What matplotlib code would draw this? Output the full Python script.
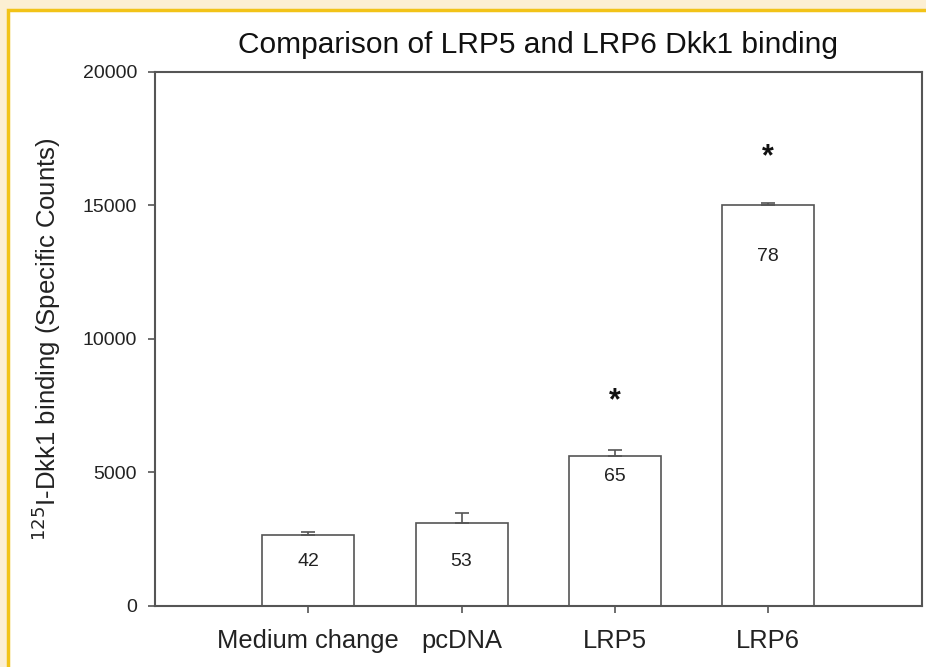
import matplotlib
matplotlib.use("Agg")
import matplotlib.pyplot as plt
from matplotlib.patches import Rectangle

categories = ["Medium change", "pcDNA", "LRP5", "LRP6"]
means = [2650, 3090, 5620, 15000]
errors = [90, 380, 200, 100]
bar_labels = ["42", "53", "65", "78"]
label_y = [1650, 1650, 4850, 13100]
star_y = [None, None, 7650, 16800]
yticks = [0, 5000, 10000, 15000, 20000]

plt.rcParams['font.family'] = ['Liberation Sans', 'DejaVu Sans']

W, H = 926, 667
fig = plt.figure(figsize=(W / 100, H / 100), dpi=100)
fig.patch.set_facecolor('#FCEFD3')
fig.patches.append(Rectangle((8 / W, -0.1), 1.2, 1.1 - 10 / H, transform=fig.transFigure,
                             facecolor='white', edgecolor='#F2C318', linewidth=2.5,
                             zorder=-1))

ax = fig.add_axes([155 / W, 1 - 605.5 / H, (921.5 - 155) / W, (605.5 - 72) / H])
ax.set_facecolor('none')
pos = [1, 2, 3, 4]
ec = '#555555'
ax.bar(pos, means, width=0.6, color='white', edgecolor=ec, linewidth=1.2, zorder=2)
ax.errorbar(pos, means, yerr=[[0] * 4, errors], fmt='none', ecolor=ec,
            elinewidth=1.2, capsize=5, capthick=1.2, zorder=3)
for p, t, y in zip(pos, bar_labels, label_y):
    ax.text(p, y, t, ha='center', va='center', fontsize=14, color='#222222', zorder=4)
for p, y in zip(pos, star_y):
    if y is not None:
        ax.text(p, y, '*', ha='center', va='center', fontsize=22, color='#111111',
                fontweight='bold')

ax.set_xlim(0, 5)
ax.set_ylim(0, 20000)
ax.set_xticks(pos)
ax.set_xticklabels(categories, fontsize=18.4, color='#222222')
ax.set_yticks(yticks)
ax.set_yticklabels([str(v) for v in yticks], fontsize=14, color='#222222')
ax.tick_params(axis='both', direction='out', length=5, width=1.2, color=ec)
ax.tick_params(axis='x', pad=12)
ax.tick_params(axis='y', pad=7.8)
for s in ax.spines.values():
    s.set_color(ec)
    s.set_linewidth(1.5)

ax.set_ylabel(r'$^{125}$I-Dkk1 binding (Specific Counts)', fontsize=18.5, color='#222222',
              labelpad=14)
ax.set_title('Comparison of LRP5 and LRP6 Dkk1 binding', fontsize=21.5, color='#111111',
             pad=14)

fig.savefig('out.png', dpi=100, facecolor=fig.get_facecolor())
